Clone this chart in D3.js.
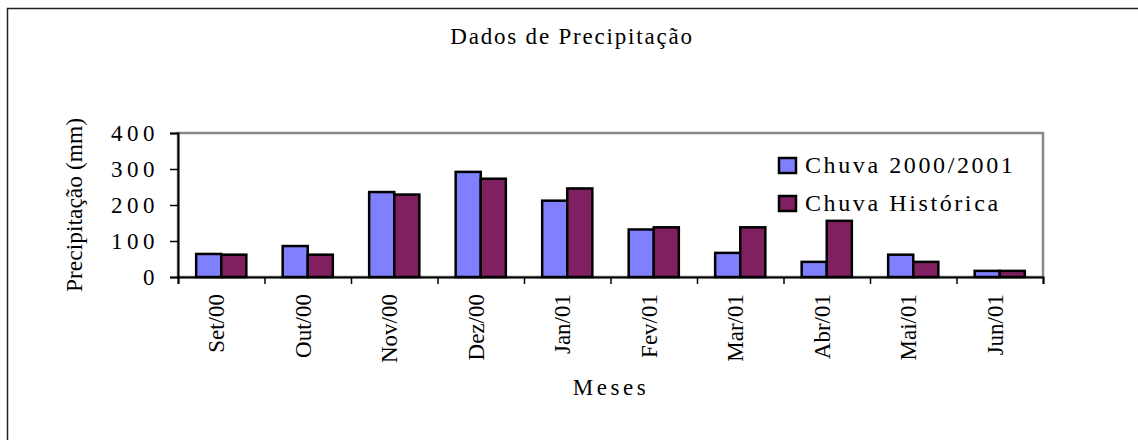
<!DOCTYPE html>
<html>
<head>
<meta charset="utf-8">
<script src="https://cdn.jsdelivr.net/npm/d3@7"></script>
<style>
  body { margin: 0; background: #fff; }
  text { font-family: "Liberation Serif", "Times New Roman", serif; fill: #000; }
</style>
</head>
<body>
<div id="chart"></div>
<script>
// Data
var months = ["Set/00", "Out/00", "Nov/00", "Dez/00", "Jan/01", "Fev/01", "Mar/01", "Abr/01", "Mai/01", "Jun/01"];
var chuva2000 = [64, 86, 236, 292, 212, 132, 67, 42, 62, 17];
var chuvaHist = [62, 62, 229, 273, 246, 138, 138, 156, 42, 17];
var seriesNames = ["Chuva 2000/2001", "Chuva Histórica"];
var yTicks = [0, 100, 200, 300, 400];

// Setup
var width = 1138, height = 440;
var plot = {left: 178, top: 133, right: 1043, bottom: 277};
var colors = ["#8080ff", "#802060"];

var svg = d3.select("#chart").append("svg")
    .attr("width", width)
    .attr("height", height);

// outer frame (right/bottom edges fall outside the picture)
svg.append("rect")
    .attr("x", 7.5).attr("y", 8.5)
    .attr("width", 1200).attr("height", 500)
    .attr("fill", "none")
    .attr("stroke", "#222")
    .attr("stroke-width", 1.5);

// scales
var x = d3.scaleBand()
    .domain(months)
    .range([plot.left, plot.right])
    .paddingInner(0.42)
    .paddingOuter(0.21);

var xs = d3.scaleBand()
    .domain([0, 1])
    .range([0, x.bandwidth()]);

var xTick = d3.scaleLinear()
    .domain([0, months.length])
    .range([plot.left, plot.right]);

var y = d3.scaleLinear()
    .domain([0, 400])
    .range([plot.bottom, plot.top]);

// plot area border (grey)
svg.append("rect")
    .attr("x", plot.left).attr("y", y(400))
    .attr("width", plot.right - plot.left)
    .attr("height", y(0) - y(400))
    .attr("fill", "none")
    .attr("stroke", "#888")
    .attr("stroke-width", 2.5);

// bars
var rows = months.map(function(m, i) {
    return {month: m, values: [chuva2000[i], chuvaHist[i]]};
});

var groups = svg.selectAll("g.group")
    .data(rows).enter().append("g")
    .attr("class", "group")
    .attr("transform", function(d) { return "translate(" + x(d.month) + ",0)"; });

groups.selectAll("rect")
    .data(function(d) { return d.values.map(function(v, k) { return {k: k, v: v}; }); })
    .enter().append("rect")
    .attr("x", function(d) { return xs(d.k); })
    .attr("y", function(d) { return y(d.v); })
    .attr("width", xs.bandwidth())
    .attr("height", function(d) { return y(0) - y(d.v); })
    .attr("fill", function(d) { return colors[d.k]; })
    .attr("stroke", "#000")
    .attr("stroke-width", 2.5);

// y axis
var axisY = d3.axisLeft(y)
    .tickValues(yTicks)
    .tickSize(8)
    .tickFormat("");

var gy = svg.append("g")
    .attr("transform", "translate(" + plot.left + ",0)")
    .call(axisY);
gy.select(".domain").attr("stroke", "#000").attr("stroke-width", 2);
gy.selectAll(".tick line").attr("stroke", "#000").attr("stroke-width", 1.5);

svg.selectAll("text.ytick")
    .data(yTicks).enter().append("text")
    .attr("class", "ytick")
    .attr("x", 159)
    .attr("y", function(d) { return y(d); })
    .attr("dy", "0.35em")
    .attr("text-anchor", "end")
    .style("font-size", "23px")
    .style("letter-spacing", "4.5px")
    .text(function(d) { return d; });

// x axis
var axisX = d3.axisBottom(xTick)
    .tickValues(d3.range(months.length + 1))
    .tickSize(7)
    .tickFormat("");

var gx = svg.append("g")
    .attr("transform", "translate(0," + plot.bottom + ")")
    .call(axisX);
gx.select(".domain").attr("stroke", "#000").attr("stroke-width", 2);
gx.selectAll(".tick line").attr("stroke", "#000").attr("stroke-width", 1.5);

svg.selectAll("text.xlab")
    .data(months).enter().append("text")
    .attr("class", "xlab")
    .attr("transform", function(d) {
        return "translate(" + (x(d) + x.bandwidth() / 2) + ",294) rotate(-90)";
    })
    .attr("dy", 3)
    .attr("text-anchor", "end")
    .style("font-size", "23px")
    .text(function(d) { return d; });

// titles
svg.append("text")
    .attr("x", 572).attr("y", 44)
    .attr("text-anchor", "middle")
    .style("font-size", "23px")
    .style("letter-spacing", "1.8px")
    .text("Dados de Precipitação");

svg.append("text")
    .attr("x", 611).attr("y", 395)
    .attr("text-anchor", "middle")
    .style("font-size", "23px")
    .style("letter-spacing", "3.5px")
    .text("Meses");

svg.append("text")
    .attr("transform", "translate(82," + ((plot.top + plot.bottom) / 2) + ") rotate(-90)")
    .attr("text-anchor", "middle")
    .style("font-size", "23.5px")
    .text("Precipitação (mm)");

// legend
var legend = svg.selectAll("g.legend")
    .data(seriesNames).enter().append("g")
    .attr("class", "legend")
    .attr("transform", function(d, i) { return "translate(779," + (158 + i * 38) + ")"; });

legend.append("rect")
    .attr("width", 17).attr("height", 15)
    .attr("fill", function(d, i) { return colors[i]; })
    .attr("stroke", "#000")
    .attr("stroke-width", 2.5);

legend.append("text")
    .attr("x", 26).attr("y", 15)
    .style("font-size", "24px")
    .style("letter-spacing", "2.6px")
    .text(function(d) { return d; });
</script>
</body>
</html>
